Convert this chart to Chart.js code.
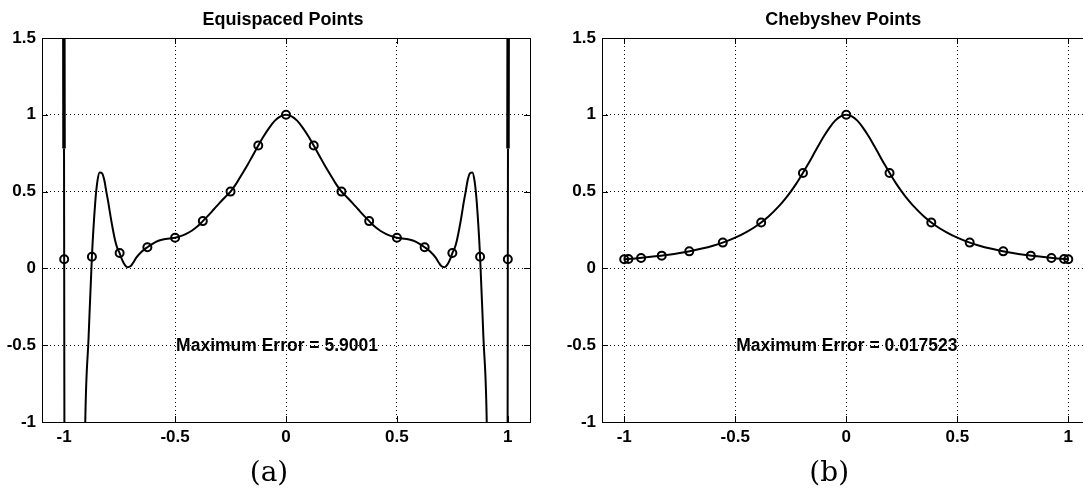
<!DOCTYPE html>
<html>
<head>
<meta charset="utf-8">
<script src="https://cdn.jsdelivr.net/npm/chart.js@4/dist/chart.umd.min.js"></script>
<style>
  html, body { margin: 0; padding: 0; background: #fff; overflow: hidden; width: 1083px; height: 489px; }
  canvas { position: absolute; top: 0; }
  #equiChart { left: 0; }
  #chebChart { left: 545px; }
</style>
</head>
<body>
<canvas id="equiChart" width="545" height="489"></canvas>
<canvas id="chebChart" width="560" height="489"></canvas>
<script>
// tick labels
const xTicks = [-1, -0.5, 0, 0.5, 1];
const yTicks = [-1, -0.5, 0, 0.5, 1, 1.5];

// (a) equispaced nodes
const equiX = [-1, -0.875, -0.75, -0.625, -0.5, -0.375, -0.25, -0.125, 0, 0.125, 0.25, 0.375, 0.5, 0.625, 0.75, 0.875, 1];
const equiY = [0.059, 0.076, 0.1, 0.138, 0.2, 0.308, 0.5, 0.8, 1, 0.8, 0.5, 0.308, 0.2, 0.138, 0.1, 0.076, 0.059];

// (a) interpolating curve (goes far off scale near the ends)
const equiCurveX = [-1.002, -1.0007, -1, -0.998, -0.96, -0.93, -0.905, -0.89, -0.875, -0.86, -0.85, -0.84, -0.83, -0.82, -0.81, -0.8,
  -0.79, -0.78, -0.77, -0.76, -0.75, -0.74, -0.73, -0.715, -0.7, -0.69, -0.675, -0.65, -0.625, -0.6, -0.575, -0.55,
  -0.525, -0.5, -0.475, -0.45, -0.425, -0.4, -0.375, -0.35, -0.325, -0.3, -0.275, -0.25, -0.225, -0.2, -0.175, -0.15,
  -0.125, -0.1, -0.075, -0.05, -0.025, 0, 0.025, 0.05, 0.075, 0.1, 0.125, 0.15, 0.175, 0.2, 0.225, 0.25, 0.275, 0.3,
  0.325, 0.35, 0.375, 0.4, 0.425, 0.45, 0.475, 0.5, 0.525, 0.55, 0.575, 0.6, 0.625, 0.65, 0.675, 0.69, 0.7, 0.715,
  0.73, 0.74, 0.75, 0.76, 0.77, 0.78, 0.79, 0.8, 0.81, 0.82, 0.83, 0.84, 0.85, 0.86, 0.875, 0.89, 0.905, 0.93, 0.96,
  0.998, 1, 1.0007, 1.002];
const equiCurveY = [2.0, 0.78, 0.059, -2.0, -5.8, -4.0, -1.0, -0.45, 0.076, 0.43, 0.57, 0.625, 0.62, 0.58, 0.5, 0.42,
  0.33, 0.25, 0.18, 0.13, 0.1, 0.06, 0.03, 0.008, 0.015, 0.035, 0.07, 0.11, 0.138, 0.162, 0.18, 0.19,
  0.195, 0.2, 0.21, 0.225, 0.245, 0.272, 0.308, 0.345, 0.385, 0.425, 0.463, 0.5, 0.55, 0.61, 0.67, 0.735,
  0.8, 0.862, 0.917, 0.962, 0.99, 1, 0.99, 0.962, 0.917, 0.862, 0.8, 0.735, 0.67, 0.61, 0.55, 0.5, 0.463, 0.425,
  0.385, 0.345, 0.308, 0.272, 0.245, 0.225, 0.21, 0.2, 0.195, 0.19, 0.18, 0.162, 0.138, 0.11, 0.07, 0.035, 0.015, 0.008,
  0.03, 0.06, 0.1, 0.13, 0.18, 0.25, 0.33, 0.42, 0.5, 0.58, 0.62, 0.625, 0.57, 0.43, 0.076, -0.45, -1.0, -4.0, -5.8,
  -2.0, 0.059, 0.78, 2.0];

// (b) Chebyshev nodes
const chebX = [-1, -0.981, -0.924, -0.831, -0.707, -0.556, -0.383, -0.195, 0, 0.195, 0.383, 0.556, 0.707, 0.831, 0.924, 0.981, 1];
const chebY = [0.059, 0.061, 0.068, 0.083, 0.111, 0.168, 0.299, 0.621, 1, 0.621, 0.299, 0.168, 0.111, 0.083, 0.068, 0.061, 0.059];

// (b) interpolating curve
const chebCurveX = [-1, -0.95, -0.9, -0.85, -0.8, -0.75, -0.7, -0.65, -0.6, -0.55, -0.5, -0.45, -0.4, -0.35, -0.3,
  -0.275, -0.25, -0.225, -0.2, -0.175, -0.15, -0.125, -0.1, -0.075, -0.05, -0.025, 0, 0.025, 0.05, 0.075, 0.1,
  0.125, 0.15, 0.175, 0.2, 0.225, 0.25, 0.275, 0.3, 0.35, 0.4, 0.45, 0.5, 0.55, 0.6, 0.65, 0.7, 0.75, 0.8, 0.85,
  0.9, 0.95, 1];
const chebCurveY = [0.059, 0.065, 0.072, 0.08, 0.089, 0.1, 0.113, 0.129, 0.148, 0.171, 0.2, 0.236, 0.281, 0.338, 0.41,
  0.452, 0.5, 0.552, 0.61, 0.671, 0.735, 0.8, 0.862, 0.917, 0.962, 0.99, 1, 0.99, 0.962, 0.917, 0.862,
  0.8, 0.735, 0.671, 0.61, 0.552, 0.5, 0.452, 0.41, 0.338, 0.281, 0.236, 0.2, 0.171, 0.148, 0.129, 0.113, 0.1, 0.089, 0.08,
  0.072, 0.065, 0.059];

const tickFont = { family: '"Liberation Sans", Arial, sans-serif', size: 17, weight: 'bold' };

function toPoints(xs, ys) {
    return xs.map((x, i) => ({ x: x, y: ys[i] }));
}

// frame box with MATLAB-style inward ticks, plus title / error text / caption
const matlabPlugin = {
    id: 'matlab',
    afterDraw(chart, args, opts) {
        const ctx = chart.ctx;
        const area = chart.chartArea;
        const xs = chart.scales.x;
        const ys = chart.scales.y;
        ctx.save();
        ctx.strokeStyle = '#000';
        ctx.lineWidth = 1;
        ctx.setLineDash([]);
        ctx.strokeRect(Math.round(area.left) + 0.5, Math.round(area.top) + 0.5,
            Math.round(area.right - area.left), Math.round(area.bottom - area.top));
        const tl = 6;
        ctx.beginPath();
        xTicks.forEach(v => {
            const p = Math.round(xs.getPixelForValue(v)) + 0.5;
            ctx.moveTo(p, area.bottom); ctx.lineTo(p, area.bottom - tl);
            ctx.moveTo(p, area.top); ctx.lineTo(p, area.top + tl);
        });
        yTicks.forEach(v => {
            const p = Math.round(ys.getPixelForValue(v)) + 0.5;
            ctx.moveTo(area.left, p); ctx.lineTo(area.left + tl, p);
            ctx.moveTo(area.right, p); ctx.lineTo(area.right - tl, p);
        });
        ctx.stroke();

        const x0 = xs.getPixelForValue(0);
        ctx.fillStyle = '#000';
        ctx.textAlign = 'center';
        ctx.textBaseline = 'alphabetic';
        ctx.font = 'bold 18px "Liberation Sans", Arial, sans-serif';
        ctx.fillText(opts.title, x0 - 3, 25);

        ctx.textAlign = 'left';
        ctx.textBaseline = 'middle';
        ctx.font = 'bold 17.5px "Liberation Sans", Arial, sans-serif';
        ctx.fillText(opts.errorText, xs.getPixelForValue(-0.5) + 1, ys.getPixelForValue(-0.5) + 1);

        ctx.textAlign = 'center';
        ctx.textBaseline = 'alphabetic';
        ctx.font = '28px "DejaVu Serif", "Liberation Serif", serif';
        ctx.fillText(opts.caption, x0 - 17, 481);
        ctx.restore();
    }
};

function makeChart(canvasId, nodeX, nodeY, curveX, curveY, cfg) {
    const ctx = document.getElementById(canvasId).getContext('2d');
    const lastSeg = curveX.length - 2;
    return new Chart(ctx, {
        type: 'line',
        data: {
            datasets: [{
                label: 'interpolant',
                data: toPoints(curveX, curveY),
                borderColor: '#000',
                borderWidth: 2,
                pointRadius: 0,
                fill: false,
                cubicInterpolationMode: 'monotone',
                // the off-scale spikes at both ends are traced twice, so they look heavier
                segment: {
                    borderWidth: c => (cfg.heavyEnds && (c.p0DataIndex === 0 || c.p0DataIndex === lastSeg)) ? 3.5 : undefined
                }
            }, {
                label: 'nodes',
                data: toPoints(nodeX, nodeY),
                showLine: false,
                pointRadius: 4,
                pointBorderWidth: 2,
                pointBorderColor: '#000',
                pointBackgroundColor: 'rgba(0,0,0,0)'
            }]
        },
        options: {
            responsive: false,
            animation: false,
            layout: { padding: { top: 38, right: cfg.rightPad, left: 0, bottom: 0 } },
            plugins: {
                legend: { display: false },
                tooltip: { enabled: false },
                matlab: { title: cfg.title, errorText: cfg.errorText, caption: cfg.caption }
            },
            scales: {
                x: {
                    type: 'linear',
                    min: -1.1,
                    max: 1.1,
                    afterBuildTicks: scale => { scale.ticks = xTicks.map(v => ({ value: v })); },
                    afterFit: scale => { scale.height = 67; },
                    ticks: { font: tickFont, color: '#000', padding: 5, maxRotation: 0, callback: v => String(v) },
                    grid: { color: '#000', lineWidth: 1, drawTicks: false },
                    border: { display: false, dash: [1, 3] }
                },
                y: {
                    min: -1,
                    max: 1.5,
                    afterBuildTicks: scale => { scale.ticks = yTicks.map(v => ({ value: v })); },
                    afterFit: scale => { scale.width = cfg.leftW; },
                    ticks: { font: tickFont, color: '#000', padding: 6, callback: v => String(v) },
                    grid: { color: '#000', lineWidth: 1, drawTicks: false },
                    border: { display: false, dash: [1, 3] }
                }
            }
        },
        plugins: [matlabPlugin]
    });
}

makeChart('equiChart', equiX, equiY, equiCurveX, equiCurveY,
    { title: 'Equispaced Points', errorText: 'Maximum Error = 5.9001', caption: '(a)', leftW: 42, rightPad: 15, heavyEnds: true });
makeChart('chebChart', chebX, chebY, chebCurveX, chebCurveY,
    { title: 'Chebyshev Points', errorText: 'Maximum Error = 0.017523', caption: '(b)', leftW: 57, rightPad: 14.5, heavyEnds: false });
</script>
</body>
</html>
